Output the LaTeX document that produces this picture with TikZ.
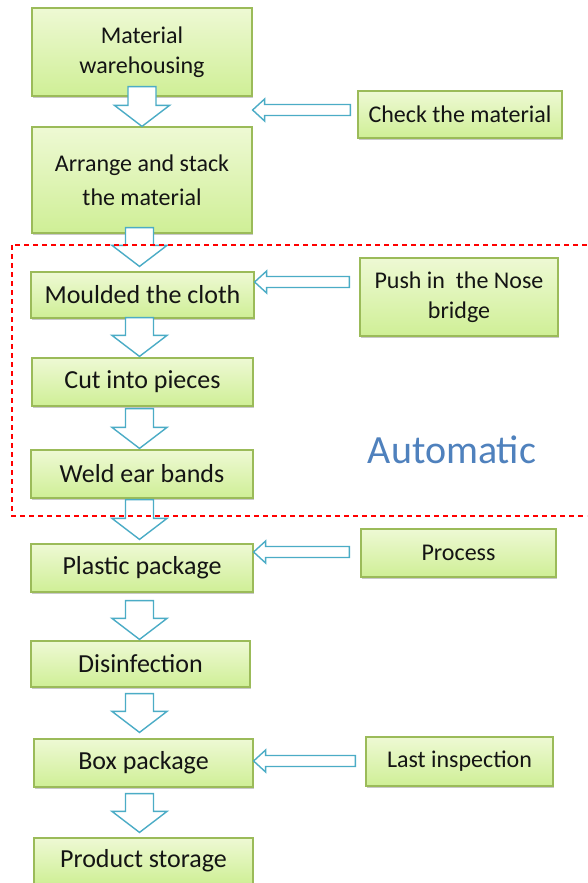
\documentclass[tikz,border=0pt]{standalone}
\usepackage{fontspec}
\setmainfont{Carlito}
\usetikzlibrary{calc,shadows}
\definecolor{boxtop}{RGB}{238,249,212}
\definecolor{boxbot}{RGB}{207,239,150}
\definecolor{boxline}{RGB}{155,187,89}
\definecolor{arrowline}{RGB}{75,172,198}
\definecolor{autoblue}{RGB}{79,129,189}
\definecolor{txt}{RGB}{20,20,20}
\tikzset{
  stepbox/.style={draw=boxline, line width=1.2pt, top color=boxtop, bottom color=boxbot,
    drop shadow={shadow xshift=1.2pt, shadow yshift=-1.5pt, opacity=0.35, fill=black!60},
    text=txt, align=center, inner sep=2pt, font=\fontsize{26}{30}\selectfont},
  sidebox/.style={stepbox, font=\fontsize{24}{30}\selectfont},
  barrow/.style={draw=arrowline, line width=1.4pt, fill=white, line join=miter},
}
% down block arrow: from, to, x offset, start gap below from.south, tip gap above to.north
\newcommand\bdown[5]{%
  \draw[barrow] let \p1=(#1.south), \p2=(#2.north) in
   ({\x1+(#3pt)-14pt},{\y1-(#4pt)}) -- ({\x1+(#3pt)+14pt},{\y1-(#4pt)})
   -- ({\x1+(#3pt)+14pt},{\y2+(#5pt)+21pt}) -- ({\x1+(#3pt)+27.5pt},{\y2+(#5pt)+21pt})
   -- ({\x1+(#3pt)},{\y2+(#5pt)}) -- ({\x1+(#3pt)-27.5pt},{\y2+(#5pt)+21pt})
   -- ({\x1+(#3pt)-14pt},{\y2+(#5pt)+21pt}) -- cycle;}
% left block arrow: from (right node), to (left node), y offset, tail gap
\newcommand\bleft[4]{%
  \draw[barrow] let \p1=(#1.west), \p2=(#2.east) in
   ({\x1-(#4pt)},{\y1+(#3pt)+5.5pt}) -- ({\x2+12pt},{\y1+(#3pt)+5.5pt})
   -- ({\x2+12pt},{\y1+(#3pt)+11pt}) -- ({\x2},{\y1+(#3pt)})
   -- ({\x2+12pt},{\y1+(#3pt)-11pt}) -- ({\x2+12pt},{\y1+(#3pt)-5.5pt})
   -- ({\x1-(#4pt)},{\y1+(#3pt)-5.5pt}) -- cycle;}
\begin{document}
\begin{tikzpicture}[x=1pt,y=-1pt]
\clip (0,0) rectangle (587,883);
\fill[white] (0,0) rectangle (587,883);
% main column
\node[stepbox, minimum width=220pt, minimum height=88pt, font=\fontsize{24}{30}\selectfont] (b1) at (142,52) {Material\\warehousing};
\node[stepbox, minimum width=220pt, minimum height=106pt, font=\fontsize{24}{34}\selectfont] (b2) at (142,180) {Arrange and stack\\the material};
\node[stepbox, minimum width=223pt, minimum height=46pt] (b3) at (142.5,295) {Moulded the cloth};
\node[stepbox, minimum width=221pt, minimum height=48pt] (b4) at (142.5,382) {Cut into pieces};
\node[stepbox, minimum width=222pt, minimum height=48pt] (b5) at (142,474) {Weld ear bands};
\node[stepbox, minimum width=222pt, minimum height=48pt] (b6) at (142,568) {Plastic package};
\node[stepbox, minimum width=219pt, minimum height=46pt] (b7) at (140.5,664) {Disinfection};
\node[stepbox, minimum width=219pt, minimum height=48pt] (b8) at (143.5,763) {Box package};
\node[stepbox, minimum width=219pt, minimum height=46pt] (b9) at (143.5,861) {Product storage};
% side boxes
\node[sidebox, minimum width=204pt, minimum height=47pt] (chk) at (460,114.5) {Check the material};
\node[sidebox, minimum width=198pt, minimum height=78pt] (push) at (459,297) {Push in\ \ the Nose\\bridge};
\node[sidebox, minimum width=195pt, minimum height=48pt] (proc) at (458.5,553) {Process};
\node[sidebox, minimum width=187pt, minimum height=49pt] (last) at (459.5,761.5) {Last inspection};
% automatic label
\node[text=autoblue, font=\fontsize{40}{42}\selectfont] (auto) at (452,450) {Automatic};
% down arrows
\bdown{b1}{b2}{0}{-10}{0}
\bdown{b2}{b3}{-2.5}{-6}{5}
\bdown{b3}{b4}{-3}{-1}{1}
\bdown{b4}{b5}{-3}{2}{1}
\bdown{b5}{b6}{-2.5}{1}{4}
\bdown{b6}{b7}{-2.5}{8}{1}
\bdown{b7}{b8}{-1}{6}{6}
\bdown{b8}{b9}{-4}{6}{5}
% left arrows
\bleft{chk}{b1}{4.5}{7}
\bleft{push}{b3}{15}{10}
\bleft{proc}{b6}{1}{11}
\bleft{last}{b8}{0.5}{10}
% automatic region
\draw[red, line width=1.2pt, dash pattern=on 5pt off 4pt] (12,245) rectangle (600,516);
\end{tikzpicture}
\end{document}
